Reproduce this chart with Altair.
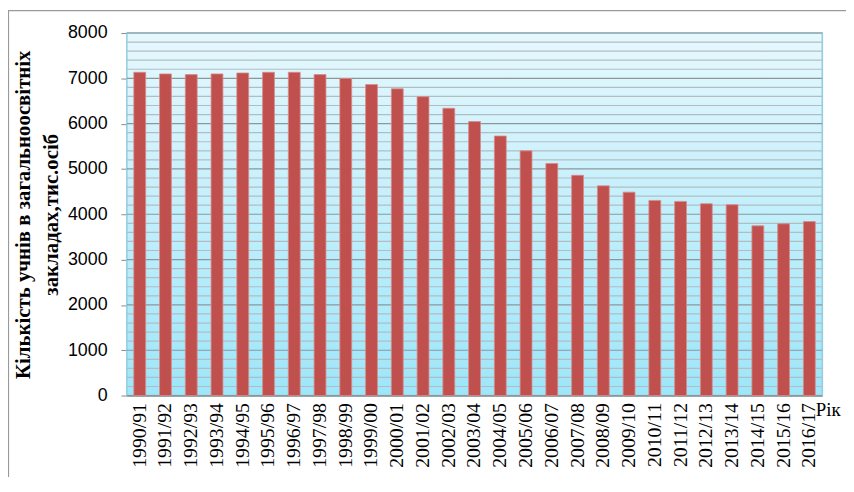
import altair as alt
import pandas as pd

years = ["1990/91", "1991/92", "1992/93", "1993/94", "1994/95", "1995/96", "1996/97",
         "1997/98", "1998/99", "1999/00", "2000/01", "2001/02", "2002/03", "2003/04",
         "2004/05", "2005/06", "2006/07", "2007/08", "2008/09", "2009/10", "2010/11",
         "2011/12", "2012/13", "2013/14", "2014/15", "2015/16", "2016/17"]
pupils = [7133, 7097, 7082, 7097, 7118, 7133, 7133, 7082, 6995, 6863, 6769, 6594, 6339,
          6047, 5727, 5399, 5122, 4860, 4627, 4488, 4306, 4284, 4233, 4211, 3745, 3789, 3840]
y_ticks = list(range(0, 8001, 200))
y_labels = list(range(0, 8001, 1000))
y_title = ["Кількість учнів в загальноосвітніх", "закладах,тис.осіб"]
x_title = "Рік"

W, H = 702, 366
df = pd.DataFrame({"year": years, "pupils": pupils})
grid_df = pd.DataFrame({"v": y_ticks, "major": [v % 1000 == 0 for v in y_ticks]})

y_scale = alt.Scale(domain=[0, 8000], nice=False)
y_axis = alt.Axis(title=y_title, values=y_labels, format="d",
                  labelFont="Liberation Sans", labelFontSize=18, labelColor="#000",
                  labelPadding=14, tickSize=6, tickColor="#888",
                  domainColor="#888", domainWidth=1.2, grid=False,
                  titleFont="Liberation Serif", titleFontSize=21,
                  titleFontWeight="bold", titleColor="#000",
                  titleLineHeight=28, titlePadding=6)

bg = alt.Chart(pd.DataFrame({"k": [0]})).mark_rect(
    fill=alt.Gradient(gradient="linear", x1=0, y1=0, x2=0, y2=1,
                      stops=[alt.GradientStop(offset=0, color="#e6f8fe"),
                             alt.GradientStop(offset=1, color="#9de6fa")]),
    stroke="#8fd0e2", strokeWidth=1.5,
).encode(x=alt.value(0), x2=alt.value(W), y=alt.value(0), y2=alt.value(H))

grid = alt.Chart(grid_df).mark_rule(strokeWidth=1.2).encode(
    y=alt.Y("v:Q", scale=y_scale, axis=y_axis),
    color=alt.Color("major:N", scale=alt.Scale(domain=[True, False],
                                                range=["#8f9698", "#b3bdc0"]),
                    legend=None),
)

bars = alt.Chart(df).mark_bar(
    color="#c0504d", stroke="#d98b89", strokeWidth=0.8
).encode(
    x=alt.X("year:N", sort=years,
            scale=alt.Scale(paddingInner=0.54, paddingOuter=0.27),
            axis=alt.Axis(title=x_title, labelAngle=270, labelFont="Liberation Serif",
                          labelFontSize=20, labelColor="#000", labelPadding=7,
                          ticks=False, domainColor="#868686", domainWidth=1.2,
                          titleFont="Liberation Serif", titleFontSize=19,
                          titleFontWeight="normal", titleColor="#000",
                          titleAngle=0, titleAlign="left", titleBaseline="alphabetic",
                          titleX=695, titleY=20)),
    y=alt.Y("pupils:Q", scale=y_scale, axis=y_axis),
)

border = alt.Chart(pd.DataFrame({"k": [0]})).mark_rect(
    fill=None, stroke="#9a9a9a", strokeWidth=1.2
).encode(
    x=alt.value(-119.5), x2=alt.value(W + 60),
    y=alt.value(-22.5), y2=alt.value(H + 120),
)

chart = alt.layer(border, bg, grid, bars).properties(
    width=W, height=H,
    autosize=alt.AutoSizeParams(type="none"),
    padding={"left": 120, "top": 23, "right": 24, "bottom": 80},
).configure_view(stroke=None).configure(background="white")

chart.save("out.html", embed_options={"renderer": "svg", "actions": False})
